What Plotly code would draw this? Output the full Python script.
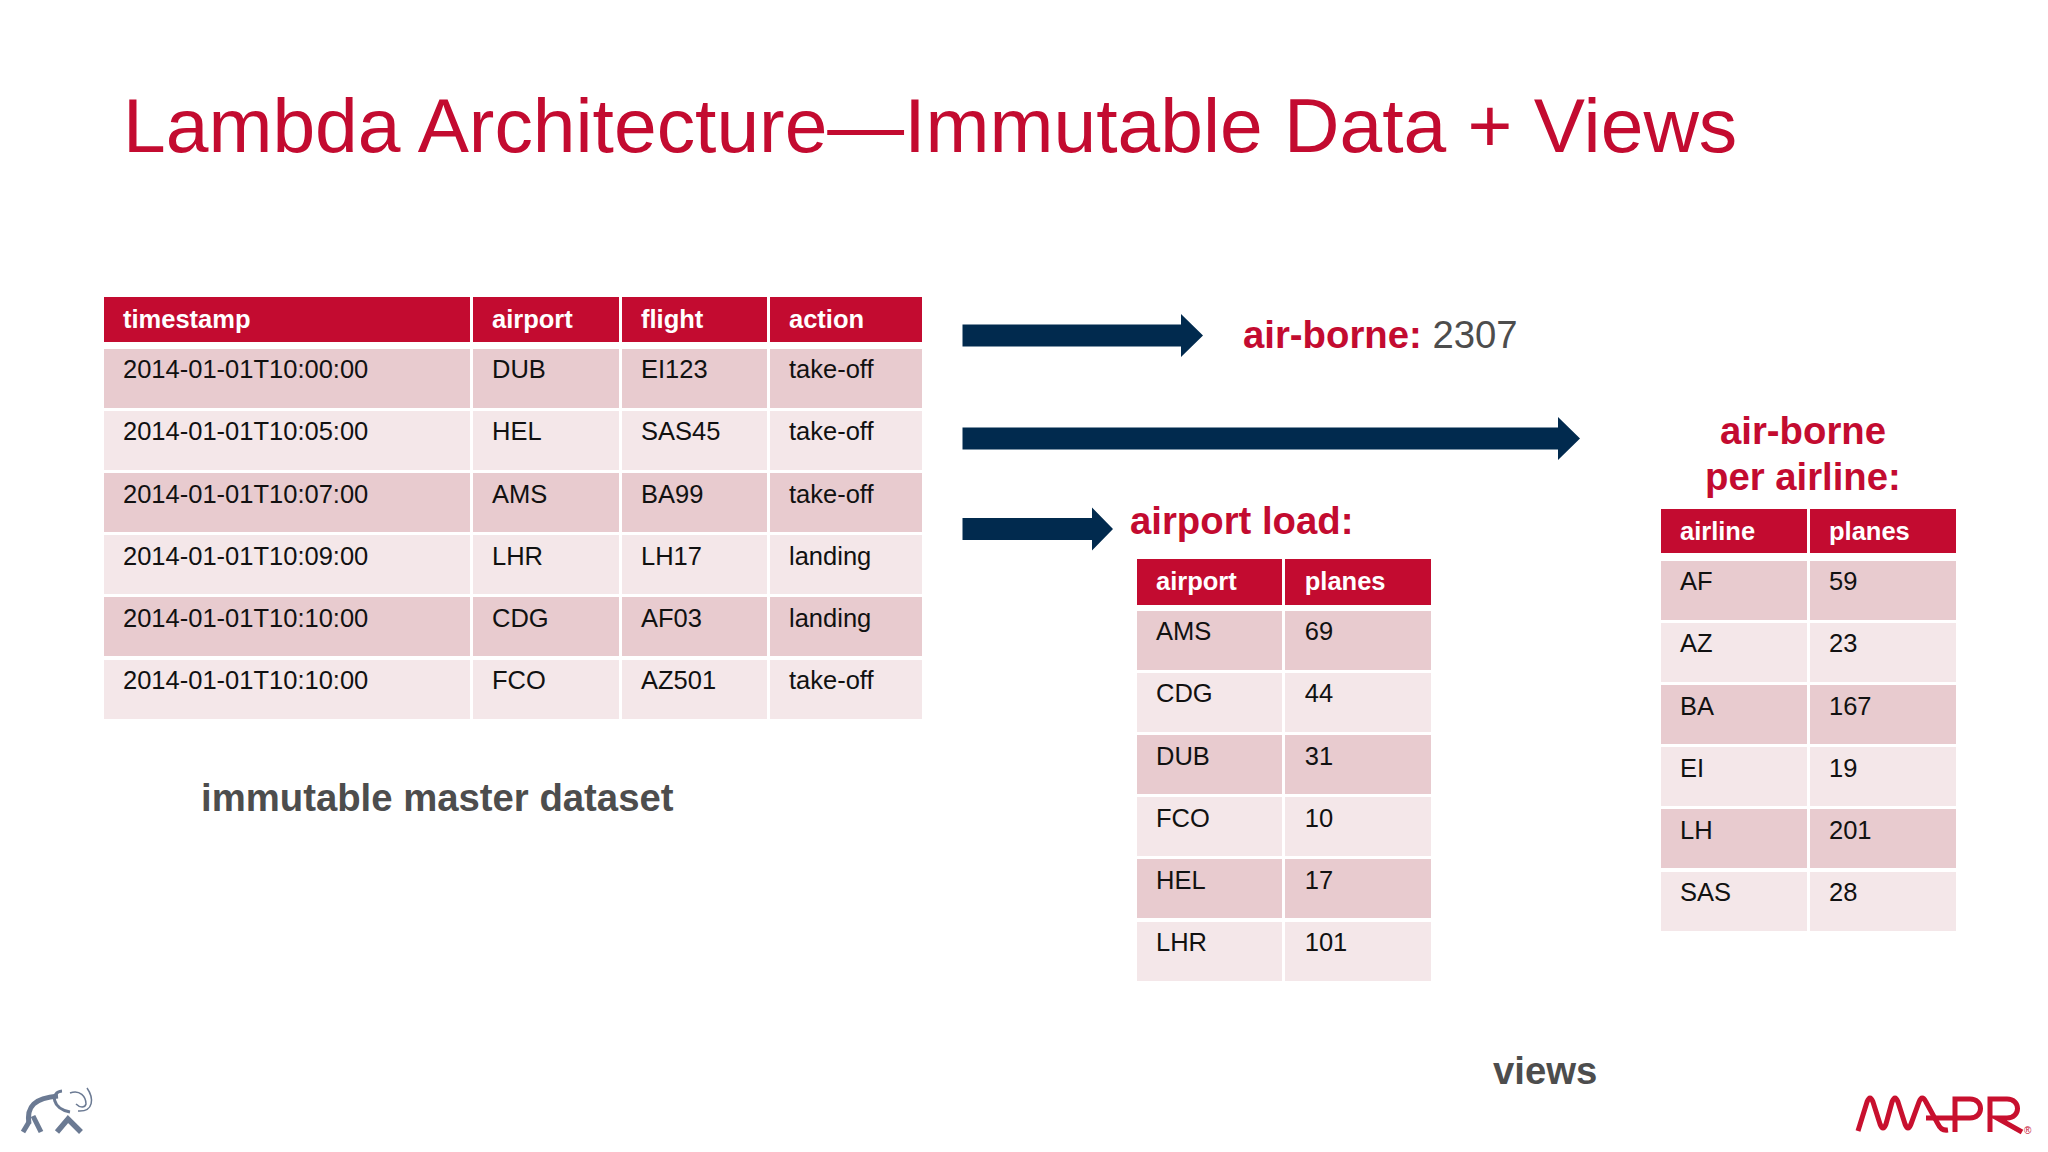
"""Lambda architecture slide: immutable master dataset and derived views."""

import plotly.graph_objects as go

W, H = 2048, 1152
FONT = "Liberation Sans"
RED = "#C30B30"
DARK_ROW = "#E8CBCF"
LIGHT_ROW = "#F4E7E9"
NAVY = "#012A4E"
GREY = "#4D4D4D"

# master dataset
timestamps = [
    "2014-01-01T10:00:00",
    "2014-01-01T10:05:00",
    "2014-01-01T10:07:00",
    "2014-01-01T10:09:00",
    "2014-01-01T10:10:00",
    "2014-01-01T10:10:00",
]
airports = ["DUB", "HEL", "AMS", "LHR", "CDG", "FCO"]
flights = ["EI123", "SAS45", "BA99", "LH17", "AF03", "AZ501"]
actions = ["take-off", "take-off", "take-off", "landing", "landing", "take-off"]

# views
load_airports = ["AMS", "CDG", "DUB", "FCO", "HEL", "LHR"]
load_planes = [69, 44, 31, 10, 17, 101]
airlines = ["AF", "AZ", "BA", "EI", "LH", "SAS"]
airline_planes = [59, 23, 167, 19, 201, 28]


def add_table(fig, headers, columns, edges, top, header_h, row_h):
    """Add a striped table whose column edges and top are given in page pixels."""
    bottom = top + header_h + row_h * len(columns[0])
    stripes = [DARK_ROW if i % 2 == 0 else LIGHT_ROW for i in range(len(columns[0]))]
    fig.add_trace(
        go.Table(
            domain=dict(
                x=[edges[0] / W, edges[-1] / W],
                y=[1 - bottom / H, 1 - top / H],
            ),
            columnwidth=[b - a for a, b in zip(edges, edges[1:])],
            header=dict(
                values=[f"<b>{h}</b>" for h in headers],
                height=header_h,
                align="left",
                fill_color=RED,
                line=dict(color="white", width=3),
                font=dict(family=FONT, size=25.5, color="white"),
            ),
            cells=dict(
                values=columns,
                height=row_h,
                align="left",
                fill_color=[stripes] * len(columns),
                line=dict(color="white", width=3),
                font=dict(family=FONT, size=25.5, color="#111111"),
            ),
        )
    )


def add_arrow(fig, x0, x_neck, x_tip, y, half_shaft=11, half_head=21.5):
    fig.add_trace(
        go.Scatter(
            x=[x0, x_neck, x_neck, x_tip, x_neck, x_neck, x0, x0],
            y=[
                y - half_shaft, y - half_shaft, y - half_head, y,
                y + half_head, y + half_shaft, y + half_shaft, y - half_shaft,
            ],
            mode="lines",
            fill="toself",
            fillcolor=NAVY,
            line=dict(color=NAVY, width=0),
            hoverinfo="skip",
            showlegend=False,
        )
    )


def label(text, x, y, anchor="left", size=38.3, color=RED):
    return dict(
        text=text, x=x, y=y, xref="x", yref="y", xanchor=anchor, yanchor="middle",
        showarrow=False, font=dict(family=FONT, size=size, color=color),
    )


def logo_line(path, color, width):
    return dict(
        type="path", path=path, xref="x", yref="y", fillcolor="rgba(0,0,0,0)",
        line=dict(color=color, width=width),
    )


def header_gap(x0, x1, y0, y1):
    # white band between a table's header and its first row
    return dict(
        type="rect", x0=x0, x1=x1, y0=y0, y1=y1, xref="x", yref="y",
        fillcolor="white", line=dict(width=0), layer="above",
    )


fig = go.Figure()

add_arrow(fig, 962.5, 1181, 1203, 335.5)
add_arrow(fig, 962.5, 1558, 1580, 438.5)
add_arrow(fig, 962.5, 1092, 1113, 529)

add_table(
    fig,
    ["timestamp", "airport", "flight", "action"],
    [timestamps, airports, flights, actions],
    [102, 471, 620, 768, 923],
    295, 52, 62.2,
)
add_table(
    fig,
    ["airport", "planes"],
    [load_airports, load_planes],
    [1135, 1284, 1432.5],
    557, 52, 62.2,
)
add_table(
    fig,
    ["airline", "planes"],
    [airlines, airline_planes],
    [1659, 1808, 1957],
    507, 52, 62.2,
)

annotations = [
    label("Lambda Architecture\u2014Immutable Data + Views", 121, 124.5, size=76.8),
    label(f"<b>air-borne:</b> <span style='color:{GREY}'>2307</span>", 1241, 334),
    label("<b>air-borne</b>", 1802.5, 430, anchor="center"),
    label("<b>per airline:</b>", 1802.5, 476, anchor="center"),
    label("<b>airport load:</b>", 1128, 520),
    label("<b>immutable master dataset</b>", 199, 797.5, color=GREY),
    label("<b>views</b>", 1491, 1070.5, color=GREY),
    label("\u00ae", 2028, 1130, anchor="center", size=10),
]

# company logos, traced by hand
ELEPHANT = "#6B7A93"
MAPR = "#C8102E"
shapes = [
    logo_line("M 29,1124 C 26,1106 35,1098 58,1096", ELEPHANT, 5),
    logo_line("M 33,1116 L 41,1132", ELEPHANT, 5),
    logo_line("M 23,1132 L 29,1122", ELEPHANT, 5),
    logo_line("M 57,1132 L 68,1119 L 81,1132", ELEPHANT, 5.5),
    logo_line("M 62,1091 C 50,1092 52,1109 70,1112", ELEPHANT, 3),
    logo_line("M 70,1093 C 80,1089 86,1097 86,1104 C 85,1108 80,1108 76,1104", ELEPHANT, 1.5),
    logo_line("M 78,1111 C 94,1112 94,1098 87,1088", ELEPHANT, 1.5),
    logo_line(
        "M 1858,1131 L 1867,1102 Q 1870,1094 1873,1102 L 1880,1124 Q 1883,1132 1886,1124"
        " L 1892,1102 Q 1895,1094 1898,1102 L 1905,1124 Q 1908,1132 1911,1124"
        " L 1919,1102 Q 1922,1094 1926,1102 L 1938,1124 Q 1941,1131 1948,1130",
        MAPR, 5,
    ),
    logo_line("M 1955,1132 L 1955,1099 L 1970,1099 C 1984,1099 1984,1118 1970,1118 L 1926,1118", MAPR, 5),
    logo_line("M 1990,1132 L 1990,1099 L 2007,1099 C 2021,1099 2021,1118 2007,1118 L 1997,1118 L 2022,1132", MAPR, 5),
    header_gap(102, 923, 342, 346),
    header_gap(1135, 1432.5, 605, 608),
    header_gap(1659, 1957, 553, 558),
]

fig.update_layout(
    width=W,
    height=H,
    margin=dict(l=0, r=0, t=0, b=0),
    paper_bgcolor="white",
    plot_bgcolor="white",
    xaxis=dict(range=[0, W], visible=False),
    yaxis=dict(range=[H, 0], visible=False),
    annotations=annotations,
    shapes=shapes,
)

# table cells have a fixed padding, so nudge their text to the slide's inset
NUDGE_TEXT = """
document.body.style.margin = '0';
document.querySelectorAll('.cell-text-holder').forEach(function (el) {
    var isHeader = el.querySelector('tspan[style*="bold"]') !== null;
    el.setAttribute('transform', (el.getAttribute('transform') || '')
        + (isHeader ? ' translate(13 1.5)' : ' translate(13 4)'));
});
"""

fig.write_html("out.html", post_script=NUDGE_TEXT, config=dict(displayModeBar=False))
